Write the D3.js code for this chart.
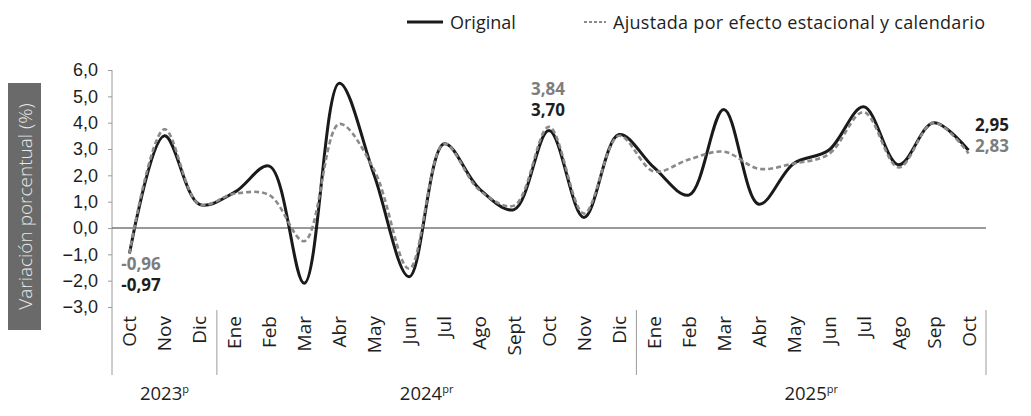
<!DOCTYPE html>
<html>
<head>
<meta charset="utf-8">
<script src="https://cdn.jsdelivr.net/npm/d3@7/dist/d3.min.js"></script>
<style>
  html, body { margin: 0; padding: 0; background: #fff; }
  svg { display: block; font-family: "Open Sans", "Noto Sans", sans-serif; }
</style>
</head>
<body>
<svg id="chart" width="1031" height="416"></svg>
<script>
const months = ["Oct","Nov","Dic","Ene","Feb","Mar","Abr","May","Jun","Jul","Ago","Sept","Oct","Nov","Dic","Ene","Feb","Mar","Abr","May","Jun","Jul","Ago","Sep","Oct"];
const original = [-0.97, 3.5, 0.9, 1.35, 2.35, -2.1, 5.5, 2.0, -1.85, 3.2, 1.5, 0.7, 3.70, 0.4, 3.55, 2.3, 1.25, 4.5, 0.9, 2.45, 2.95, 4.6, 2.4, 4.0, 2.95];
const ajustada = [-0.96, 3.75, 0.9, 1.3, 1.25, -0.5, 3.95, 2.2, -1.55, 3.2, 1.45, 0.85, 3.84, 0.55, 3.5, 2.15, 2.6, 2.9, 2.25, 2.45, 2.8, 4.4, 2.3, 4.0, 2.83];
const yTicks = [6, 5, 4, 3, 2, 1, 0, -1, -2, -3];
const years = [
  { label: "2023", sup: "p", start: 0, end: 3 },
  { label: "2024", sup: "pr", start: 3, end: 15 },
  { label: "2025", sup: "pr", start: 15, end: 25 }
];
const annotations = [
  { idx: 0, text: "-0,96", series: "a" },
  { idx: 0, text: "-0,97", series: "o" },
  { idx: 12, text: "3,84", series: "a" },
  { idx: 12, text: "3,70", series: "o" },
  { idx: 24, text: "2,95", series: "o" },
  { idx: 24, text: "2,83", series: "a" }
];

const svg = d3.select("#chart");
const keys = months.map((m, i) => i);
const x = d3.scaleBand().domain(keys).range([112, 986]);
const cx = i => x(i) + x.bandwidth() / 2;
const y = d3.scaleLinear().domain([-3, 6]).range([307, 70]);
const fmt = v => d3.format(".1f")(v).replace(".", ",");

const axisColor = "#9a9a9a";
const textColor = "#1e1e1e";
const grayText = "#7d7d7d";

// Y axis label box
svg.append("rect").attr("x", 8).attr("y", 83).attr("width", 33).attr("height", 247).attr("fill", "#6a6a6a");
svg.append("text")
  .attr("transform", `translate(25,${(83 + 330) / 2}) rotate(-90)`)
  .attr("text-anchor", "middle").attr("dominant-baseline", "central")
  .attr("fill", "#e8e8e8").attr("font-size", 19).attr("font-weight", 300)
  .text("Variación porcentual (%)");

// Y axis
const yAxis = d3.axisLeft(y).tickValues(yTicks).tickFormat(fmt).tickSize(4).tickPadding(10);
const gy = svg.append("g").attr("transform", "translate(112,0)").call(yAxis);
gy.select(".domain").remove();
gy.selectAll(".tick line").attr("stroke", axisColor);
gy.selectAll(".tick text").attr("fill", textColor).attr("font-size", 18);
svg.append("line").attr("x1", 112).attr("x2", 112).attr("y1", y(6)).attr("y2", 375)
  .attr("stroke", axisColor).attr("stroke-width", 1);

// zero line
svg.append("line").attr("x1", 112).attr("x2", 986).attr("y1", y(0)).attr("y2", y(0))
  .attr("stroke", "#777").attr("stroke-width", 1.3);

// year separators
years.forEach(yr => {
  const xe = x(yr.end - 1) + x.bandwidth();
  svg.append("line").attr("x1", xe).attr("x2", xe).attr("y1", 310).attr("y2", 375)
    .attr("stroke", axisColor).attr("stroke-width", 1);
  const xm = (x(yr.start) + xe) / 2;
  const t = svg.append("text").attr("x", xm).attr("y", 400).attr("text-anchor", "middle")
    .attr("fill", textColor).attr("font-size", 18.5);
  t.append("tspan").text(yr.label);
  t.append("tspan").attr("font-size", 11).attr("dy", -7).text(yr.sup);
});

// x labels
svg.append("g").selectAll("text").data(months).join("text")
  .attr("transform", (d, i) => `translate(${cx(i)},316) rotate(-90)`)
  .attr("text-anchor", "end").attr("dominant-baseline", "central")
  .attr("fill", textColor).attr("font-size", 19)
  .text(d => d);

// lines
const line = d3.line().x((d, i) => cx(i)).y(d => y(d)).curve(d3.curveCatmullRom.alpha(0.5));
svg.append("path").datum(original).attr("d", line)
  .attr("fill", "none").attr("stroke", "#1a1a1a").attr("stroke-width", 3);
svg.append("path").datum(ajustada).attr("d", line)
  .attr("fill", "none").attr("stroke", "#8a8a8a").attr("stroke-width", 2.6)
  .attr("stroke-dasharray", "5,3");

// annotations
const annPos = [
  { x: 141, y: 263, anchor: "middle" },
  { x: 141, y: 284, anchor: "middle" },
  { x: 548, y: 88, anchor: "middle" },
  { x: 548, y: 109, anchor: "middle" },
  { x: 992, y: 124, anchor: "middle" },
  { x: 992, y: 145, anchor: "middle" }
];
annotations.forEach((a, k) => {
  svg.append("text").attr("x", annPos[k].x).attr("y", annPos[k].y)
    .attr("text-anchor", annPos[k].anchor).attr("dominant-baseline", "central")
    .attr("font-size", 17).attr("font-weight", 700)
    .attr("fill", a.series === "o" ? textColor : grayText)
    .text(a.text);
});

// legend
svg.append("line").attr("x1", 407).attr("x2", 443).attr("y1", 22).attr("y2", 22)
  .attr("stroke", "#1a1a1a").attr("stroke-width", 3);
svg.append("text").attr("x", 450).attr("y", 22).attr("dominant-baseline", "central")
  .attr("font-size", 18).attr("fill", textColor).text("Original");
svg.append("line").attr("x1", 584).attr("x2", 606).attr("y1", 22).attr("y2", 22)
  .attr("stroke", "#8a8a8a").attr("stroke-width", 2).attr("stroke-dasharray", "3,2");
svg.append("text").attr("x", 613).attr("y", 22).attr("dominant-baseline", "central")
  .attr("font-size", 18).attr("fill", textColor)
  .attr("textLength", 372).attr("lengthAdjust", "spacing")
  .text("Ajustada por efecto estacional y calendario");
</script>
</body>
</html>
